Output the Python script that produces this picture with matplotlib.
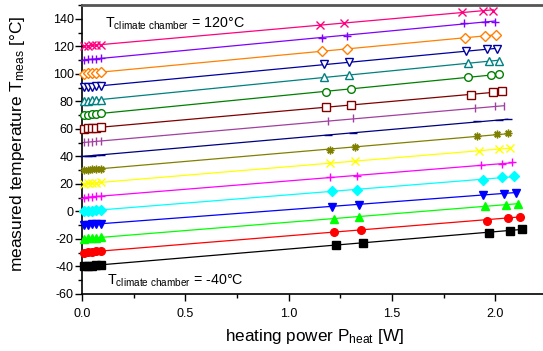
import numpy as np
import matplotlib
matplotlib.use("Agg")
import matplotlib.pyplot as plt
from matplotlib.ticker import MultipleLocator, FormatStrFormatter

# ================= DATA ================= #
CHAMBER_TEMPS = [-40, -30, -20, -10, 0, 10, 20, 30, 40, 50, 60, 70, 80, 90, 100, 110, 120]

# heating power per series [W]: 5 low-power points, 2 mid, 3 high
POWER = [
    [0.01, 0.03, 0.05, 0.07, 0.09, 1.23, 1.36, 1.97, 2.07, 2.13],
    [0.01, 0.03, 0.05, 0.07, 0.09, 1.22, 1.35, 1.96, 2.06, 2.12],
    [0.01, 0.03, 0.05, 0.07, 0.09, 1.22, 1.34, 1.95, 2.05, 2.11],
    [0.01, 0.03, 0.05, 0.07, 0.09, 1.21, 1.34, 1.94, 2.04, 2.10],
    [0.01, 0.03, 0.05, 0.07, 0.09, 1.21, 1.33, 1.94, 2.03, 2.09],
    [0.01, 0.03, 0.05, 0.07, 0.09, 1.20, 1.33, 1.93, 2.03, 2.08],
    [0.01, 0.03, 0.05, 0.07, 0.09, 1.20, 1.32, 1.92, 2.02, 2.07],
    [0.01, 0.03, 0.05, 0.07, 0.09, 1.20, 1.32, 1.91, 2.01, 2.06],
    [0.01, 0.03, 0.05, 0.07, 0.09, 1.19, 1.31, 1.91, 2.02, 2.06],
    [0.01, 0.03, 0.05, 0.07, 0.09, 1.19, 1.31, 1.90, 2.00, 2.04],
    [0.01, 0.03, 0.05, 0.07, 0.09, 1.18, 1.30, 1.88, 1.99, 2.03],
    [0.01, 0.03, 0.05, 0.07, 0.09, 1.18, 1.30, 1.87, 1.98, 2.02],
    [0.01, 0.03, 0.05, 0.07, 0.09, 1.17, 1.29, 1.87, 1.97, 2.02],
    [0.01, 0.03, 0.05, 0.07, 0.09, 1.17, 1.29, 1.86, 1.96, 2.01],
    [0.01, 0.03, 0.05, 0.07, 0.09, 1.16, 1.28, 1.855, 1.95, 2.005],
    [0.01, 0.03, 0.05, 0.07, 0.09, 1.16, 1.28, 1.85, 1.95, 2.00],
    [0.01, 0.03, 0.05, 0.07, 0.09, 1.15, 1.27, 1.84, 1.94, 1.99],
]

# measured temperature per series [°C]
T_MEAS = [
    [-39.9, -39.6, -39.3, -39.0, -38.8, -24.2, -22.8, -15.5, -14.0, -12.6],
    [-29.9, -29.6, -29.3, -29.0, -28.8, -14.7, -13.3, -6.7, -4.5, -3.8],
    [-19.9, -19.6, -19.4, -19.1, -18.8, -5.3, -3.8, 3.7, 5.0, 5.7],
    [-9.9, -9.6, -9.4, -9.1, -8.9, 3.5, 5.0, 12.3, 13.0, 13.7],
    [0.1, 0.4, 0.6, 0.9, 1.1, 14.5, 15.9, 23.2, 24.7, 25.4],
    [10.1, 10.4, 10.6, 10.9, 11.1, 24.7, 26.1, 33.4, 34.5, 35.6],
    [20.1, 20.4, 20.6, 20.9, 21.1, 34.9, 36.4, 43.9, 45.3, 46.4],
    [30.1, 30.4, 30.6, 30.9, 31.1, 44.4, 46.6, 54.6, 56.1, 56.8],
    [40.1, 40.4, 40.6, 40.9, 41.1, 55.3, 56.8, 65.5, 66.3, 67.0],
    [50.1, 50.4, 50.6, 50.9, 51.1, 65.5, 67.7, 75.0, 76.3, 76.5],
    [60.1, 60.4, 60.7, 60.9, 61.2, 75.8, 77.2, 84.5, 86.7, 87.4],
    [70.1, 70.4, 70.7, 70.9, 71.2, 86.7, 88.9, 97.7, 99.1, 99.9],
    [80.1, 80.4, 80.7, 80.9, 81.2, 97.7, 99.1, 107.9, 109.1, 109.6],
    [90.1, 90.4, 90.7, 90.9, 91.2, 107.2, 108.6, 116.6, 117.7, 118.1],
    [100.1, 100.4, 100.6, 100.9, 101.1, 116.6, 118.1, 126.1, 127.6, 128.3],
    [110.1, 110.4, 110.7, 110.9, 111.2, 126.1, 127.6, 137.1, 137.8, 138.0],
    [120.1, 120.4, 120.6, 120.9, 121.1, 135.6, 137.1, 145.1, 145.8, 145.8],
]

# ================= STYLE ================= #
COLORS = ["#000000", "#FF0000", "#00FF00", "#0000FF", "#00FFFF", "#FF00FF",
          "#FFFF00", "#808000", "#000080", "#A040A0", "#800000", "#008000",
          "#008080", "#0000A0", "#FF8000", "#8000FF", "#FF0080"]
MARKERS = ["s", "o", "^", "v", "D", "+", "x", (8, 2, 0), "_", "|",
           "s", "o", "^", "v", "D", "+", "x"]
FILLED = [True] * 5 + [False] * 12

plt.rcParams["font.family"] = ["Liberation Sans", "DejaVu Sans"]
plt.rcParams["mathtext.fontset"] = "custom"
plt.rcParams["mathtext.rm"] = "Liberation Sans"
plt.rcParams["mathtext.it"] = "Liberation Sans:italic"
plt.rcParams["axes.unicode_minus"] = False

fig = plt.figure(figsize=(5.43, 3.51), dpi=100)
ax = fig.add_axes([82 / 543, 1 - 294 / 351, 465 / 543, 289 / 351])

# ================= DRAW ================= #
for i, (p, t) in enumerate(zip(POWER, T_MEAS)):
    p = np.array(p)
    t = np.array(t)
    col = COLORS[i]
    k, d = np.polyfit(p, t, 1)
    xs = np.array([0.0, p.max()])
    ax.plot(xs, k * xs + d, color=col, lw=0.9, zorder=2)
    ms = 5.5 if MARKERS[i] != "D" else 5.0
    ax.plot(p, t, linestyle="none", marker=MARKERS[i], ms=ms,
            color=col, mec=col, mfc=col if FILLED[i] else "white",
            mew=1.0, zorder=3, clip_on=False)

ax.text(0.11, 133.5, r"T$_\mathrm{climate\ chamber}$ = 120°C",
        fontsize=10.3, va="baseline", ha="left")
ax.text(0.12, -53.5, r"T$_\mathrm{climate\ chamber}$ = -40°C",
        fontsize=10.3, va="baseline", ha="left")

# ================= AXES ================= #
ax.set_xlim(0, 2.25)
ax.set_ylim(-60, 150)
ax.xaxis.set_major_locator(MultipleLocator(0.5))
ax.xaxis.set_minor_locator(MultipleLocator(0.25))
ax.xaxis.set_major_formatter(FormatStrFormatter("%.1f"))
ax.yaxis.set_major_locator(MultipleLocator(20))
ax.yaxis.set_minor_locator(MultipleLocator(10))
ax.tick_params(which="major", direction="out", length=5, width=1, labelsize=9)
ax.tick_params(which="minor", direction="out", length=3, width=1)
ax.tick_params(axis="x", which="major", pad=5)
ax.tick_params(axis="y", which="major", pad=1)
ax.tick_params(top=False, right=False)

for side in ["left", "bottom"]:
    ax.spines[side].set_linewidth(1.2)
ax.spines["top"].set_linewidth(2.0)
ax.spines["top"].set_color("#555555")
ax.spines["right"].set_visible(False)

ax.set_xlabel(r"heating power P$_\mathrm{heat}$ [W]", fontsize=12.3)
ax.set_ylabel(r"measured temperature T$_\mathrm{meas}$ [°C]", fontsize=12.5)
ax.xaxis.set_label_coords(0.5, -0.115)
ax.yaxis.set_label_coords(-0.118, 0.52)

fig.savefig("out.png", dpi=100)
